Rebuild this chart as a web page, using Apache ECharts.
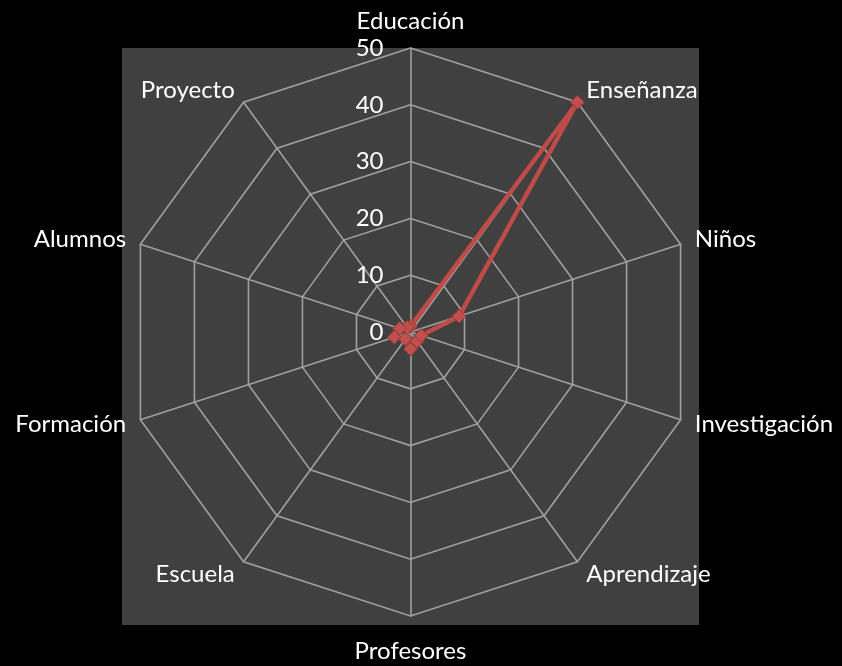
<!DOCTYPE html>
<html>
<head>
<meta charset="utf-8">
<script src="https://cdn.jsdelivr.net/npm/echarts@6/dist/echarts.min.js"></script>
<style>
html,body{margin:0;padding:0;background:#000;}
#chart{width:842px;height:666px;}
</style>
</head>
<body>
<div id="chart"></div>
<script>
// Categories in clockwise order starting at the top
const categories = ['Educación','Enseñanza','Niños','Investigación','Aprendizaje','Profesores','Escuela','Formación','Alumnos','Proyecto'];
const values = [1, 50, 9, 2, 2, 3, 1.5, 3, 2, 1];
const axisMax = 50;
const axisMin = 0;

// ECharts radar runs counter-clockwise: reorder so the chart reads clockwise
const order = [0].concat(categories.map((_, i) => i).slice(1).reverse());

const chart = echarts.init(document.getElementById('chart'), null, {renderer:'canvas'});
const FONT = 'Lato, "Liberation Sans", sans-serif';
const indicator = order.map((idx, k) => {
  const ind = {name: categories[idx], max: axisMax, min: axisMin};
  if (k === 0) {
    ind.axisLabel = {show: true, color: '#ffffff', fontSize: 24, fontFamily: FONT, margin: 27};
  }
  if (categories[idx] === 'Profesores') ind.nameGap = 15;
  return ind;
});
const seriesValues = order.map(idx => values[idx]);

chart.setOption({
  backgroundColor: '#000000',
  animation: false,
  graphic: [{
    type: 'rect',
    shape: {x: 122, y: 48, width: 577, height: 577},
    style: {fill: '#404040'},
    z: -10,
    silent: true
  }],
  radar: {
    center: [410.5, 332],
    radius: 284,
    shape: 'polygon',
    splitNumber: 5,
    startAngle: 90,
    indicator: indicator,
    axisName: {color: '#ffffff', fontSize: 24, fontFamily: FONT, padding: [8, 0, 0, 0]},
    nameGap: 15,
    axisLine: {lineStyle: {color: '#a0a0a0', width: 1.6}},
    splitLine: {lineStyle: {color: '#a0a0a0', width: 1.6}},
    splitArea: {show: false},
    axisTick: {show: false},
    axisLabel: {show: false}
  },
  series: [{
    type: 'radar',
    symbol: 'diamond',
    symbolSize: 14,
    lineStyle: {color: '#be4b48', width: 4.5},
    itemStyle: {color: '#c0504d', borderColor: '#943634', borderWidth: 1},
    data: [{value: seriesValues}]
  }]
});
</script>
</body>
</html>
